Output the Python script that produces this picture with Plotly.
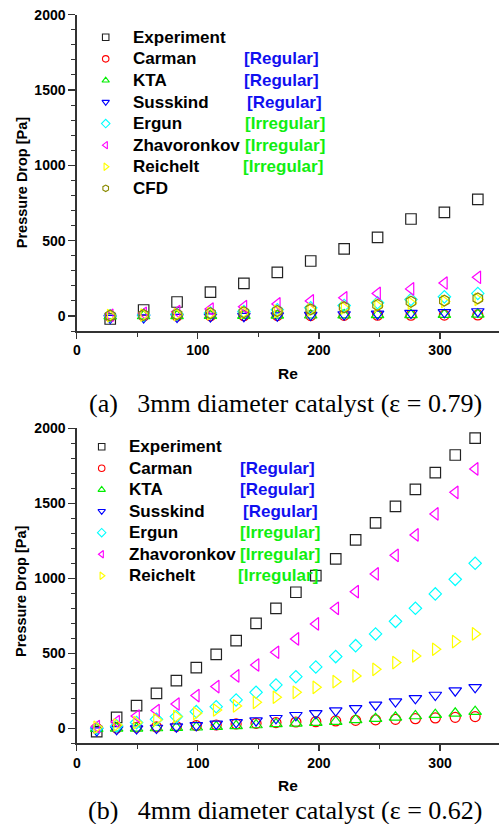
import plotly.graph_objects as go

W, H = 499, 824

# ---------------- data: (a) 3 mm catalyst ----------------
re_a = [27.6, 55.2, 82.8, 110.4, 138.0, 165.6, 193.2, 220.8, 248.4, 276.0, 303.6, 331.2]
exp_a = [-20, 40, 93, 159, 217, 290, 365, 445, 522, 644, 688, 774]
carman_a = [-3, -1, 0, 1, 2, 3, 3, 4, 5, 5, 6, 7]
kta_a = [-1, 0, 1, 2, 3, 4, 5, 6, 7, 8, 9, 11]
susskind_a = [-14, -10, -7, -4, -1, 2, 6, 10, 14, 19, 24, 30]
ergun_a = [2, 6, 12, 20, 30, 42, 55, 70, 88, 110, 127, 150]
zhav_a = [4, 18, 29, 46, 62, 80, 100, 121, 150, 180, 219, 257]
reichelt_a = [2, 6, 10, 16, 23, 31, 41, 53, 67, 86, 96, 110]
cfd_a = [3, 7, 11, 18, 25, 33, 44, 58, 73, 95, 102, 117]

# ---------------- data: (b) 4 mm catalyst ----------------
re_b = [16.45, 32.9, 49.35, 65.8, 82.25, 98.7, 115.15, 131.6, 148.05, 164.5,
        180.95, 197.4, 213.85, 230.3, 246.75, 263.2, 279.65, 296.1, 312.55, 329.0]
exp_b = [-22, 73, 151, 233, 318, 404, 493, 584, 700, 800,
         907, 1018, 1129, 1256, 1369, 1480, 1593, 1704, 1822, 1935]
carman_b = [0, 2, 7, 9, 13, 18, 22, 29, 33, 38,
            42, 44, 49, 53, 56, 60, 64, 69, 73, 78]
kta_b = [-2, 0, 0, 2, 4, 7, 11, 16, 22, 29,
         33, 38, 44, 56, 64, 73, 82, 91, 100, 111]
susskind_b = [-15, -7, -2, 2, 11, 20, 29, 40, 51, 67,
              87, 100, 118, 133, 156, 178, 200, 222, 251, 273]
ergun_b = [0, 16, 38, 60, 78, 111, 144, 189, 240, 289,
           344, 409, 478, 551, 629, 713, 800, 896, 993, 1100]
zhav_b = [11, 44, 82, 118, 162, 218, 278, 349, 422, 507,
          596, 696, 800, 911, 1029, 1153, 1289, 1429, 1573, 1729]
reichelt_b = [7, 22, 38, 56, 78, 100, 122, 149, 173, 207,
              240, 273, 311, 349, 393, 438, 482, 527, 578, 629]

x_ticks = [0, 100, 200, 300]
y_ticks = [0, 500, 1000, 1500, 2000]

# series styling: name, tag, symbol, colour
series = [
    ("Experiment", "", "square-open", "#222222", 10.5),
    ("Carman", "[Regular]", "circle-open", "#ff0000", 10),
    ("KTA", "[Regular]", "triangle-up-open", "#00ee00", 11),
    ("Susskind", "[Regular]", "triangle-down-open", "#0000ff", 11),
    ("Ergun", "[Irregular]", "diamond-open", "#00ffff", 9.5),
    ("Zhavoronkov", "[Irregular]", "triangle-left-open", "#ff00ff", 11),
    ("Reichelt", "[Irregular]", "triangle-right-open", "#ffff00", 11),
    ("CFD", "", "hexagon-open", "#8a8a00", 11),
]
tag_color = {"[Regular]": "#1010f0", "[Irregular]": "#10ee10"}

data_a = [exp_a, carman_a, kta_a, susskind_a, ergun_a, zhav_a, reichelt_a, cfd_a]
data_b = [exp_b, carman_b, kta_b, susskind_b, ergun_b, zhav_b, reichelt_b]

fig = go.Figure()

for (name, tag, sym, col, sz), ys in zip(series, data_a):
    fig.add_trace(go.Scatter(x=re_a, y=ys, mode="markers", name=name, showlegend=False,
                             marker=dict(symbol=sym, size=sz, color=col,
                                         line=dict(width=1.2, color=col)),
                             xaxis="x", yaxis="y"))
for (name, tag, sym, col, sz), ys in zip(series, data_b):
    fig.add_trace(go.Scatter(x=re_b, y=ys, mode="markers", name=name, showlegend=False,
                             marker=dict(symbol=sym, size=sz, color=col,
                                         line=dict(width=1.2, color=col)),
                             xaxis="x2", yaxis="y2"))

# ---------------- manual legends (pixel space overlay) ----------------
legend_a = dict(mx=105.7, nx=130.7, y0=37.3, dy=21.57,
                tx=[None, 241.7, 241.7, 245.0, 242.7, 242.7, 240.7, None], n=8)
legend_b = dict(mx=101.7, nx=126.7, y0=446.7, dy=21.5,
                tx=[None, 237.7, 237.7, 240.7, 238.3, 238.3, 236.0], n=7)

annotations = []
for lg in (legend_a, legend_b):
    for i in range(lg["n"]):
        name, tag, sym, col, sz = series[i]
        yy = lg["y0"] + i * lg["dy"]
        fig.add_trace(go.Scatter(x=[lg["mx"]], y=[yy], mode="markers", showlegend=False,
                                 hoverinfo="skip",
                                 marker=dict(symbol=sym, size=6.5, color=col,
                                             line=dict(width=1.1, color=col)),
                                 xaxis="x5", yaxis="y5"))
        annotations.append(dict(x=lg["nx"] / W, y=1 - yy / H, xref="paper", yref="paper",
                                text="<b>%s</b>" % name, showarrow=False,
                                xanchor="left", yanchor="middle",
                                font=dict(family="Liberation Sans, Arial", size=17, color="#000")))
        if tag:
            annotations.append(dict(x=lg["tx"][i] / W, y=1 - yy / H, xref="paper", yref="paper",
                                    text="<b>%s</b>" % tag, showarrow=False,
                                    xanchor="left", yanchor="middle",
                                    font=dict(family="Liberation Sans, Arial", size=17,
                                              color=tag_color[tag])))

# axis titles and captions
for ty, rx, ry, cy, cap in [(182.5, 373, 288, 403.3, "(a)\u00a0\u00a0\u00a03mm diameter catalyst (ε = 0.79)"),
                            (591.3, 785, 288.3, 810.8, "(b)\u00a0\u00a0\u00a04mm diameter catalyst (ε = 0.62)")]:
    annotations.append(dict(x=21.7 / W, y=1 - ty / H, xref="paper", yref="paper",
                            text="<b>Pressure Drop [Pa]</b>", textangle=-90, showarrow=False,
                            xanchor="center", yanchor="middle",
                            font=dict(family="Liberation Sans, Arial", size=14.5, color="#000")))
    annotations.append(dict(x=ry / W, y=1 - rx / H, xref="paper", yref="paper",
                            text="<b>Re</b>", showarrow=False, xanchor="center", yanchor="middle",
                            font=dict(family="Liberation Sans, Arial", size=15.5, color="#000")))
    annotations.append(dict(x=285.5 / W, y=1 - cy / H, xref="paper", yref="paper",
                            text=cap, showarrow=False, xanchor="center", yanchor="middle",
                            font=dict(family="Liberation Serif, Times New Roman", size=26,
                                      color="#000")))

x0 = 76.8 / W
xr = [0, 348.7]
yr = [-100, 2000]
dom_a = [1 - 331.07 / H, 1 - 14.7 / H]
dom_b = [1 - 743.3 / H, 1 - 428.3 / H]

tickfont = dict(family="Liberation Sans, Arial", size=14, color="#000")
axcol = "#333333"


def xax(anchor):
    return dict(domain=[x0, 1], range=xr, anchor=anchor, showline=True, linecolor=axcol,
                linewidth=1.5, ticks="outside", ticklen=6, tickwidth=1.2, tickcolor=axcol,
                tickvals=x_ticks, ticktext=["<b>%d</b>" % v for v in x_ticks],
                tickfont=tickfont, showgrid=False, zeroline=False, automargin=False,
                minor=dict(dtick=50, tick0=0, ticks="outside", ticklen=4, tickcolor=axcol,
                           tickwidth=1, showgrid=False))


def yax(anchor, dom):
    return dict(domain=dom, range=yr, anchor=anchor, showline=True, linecolor=axcol,
                linewidth=1.5, ticks="outside", ticklen=7, tickwidth=1.2, tickcolor=axcol,
                tickvals=y_ticks, ticktext=["<b>%d</b>" % v for v in y_ticks],
                tickfont=tickfont, showgrid=False, zeroline=False, automargin=False,
                minor=dict(dtick=100, tick0=0, ticks="outside", ticklen=4, tickcolor=axcol,
                           tickwidth=1, showgrid=False))


def topax(over, anchor):
    return dict(overlaying=over, anchor=anchor, side="top", range=xr, showline=True,
                linecolor=axcol, linewidth=1.5, ticks="inside", ticklen=4, tickcolor=axcol,
                tickwidth=1, dtick=50, tick0=0, showticklabels=False, showgrid=False,
                zeroline=False, automargin=False)


fig.update_layout(
    template="none",
    width=W, height=H, margin=dict(l=0, r=0, t=0, b=0, pad=0, autoexpand=False),
    paper_bgcolor="white", plot_bgcolor="rgba(0,0,0,0)",
    showlegend=False, hovermode=False,
    xaxis=xax("y"), yaxis=yax("x", dom_a),
    xaxis2=xax("y2"), yaxis2=yax("x2", dom_b),
    xaxis3=topax("x", "y"), xaxis4=topax("x2", "y2"),
    xaxis5=dict(domain=[0, 1], range=[0, W], anchor="y5", visible=False, fixedrange=True,
                automargin=False),
    yaxis5=dict(domain=[0, 1], range=[H, 0], anchor="x5", visible=False, fixedrange=True,
                automargin=False),
    annotations=annotations,
)

fig.write_html("out.html", config={"displayModeBar": False, "staticPlot": True},
               post_script="document.body.style.margin='0';document.body.style.padding='0';")
